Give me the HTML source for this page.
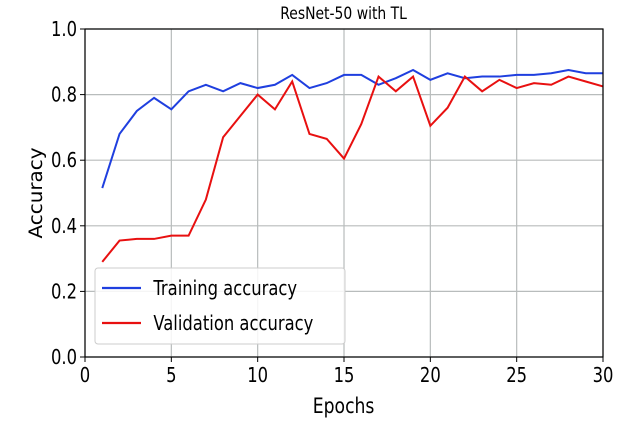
<!DOCTYPE html>
<html><head><meta charset="utf-8"><style>
body{margin:0;background:#fff;}
svg{display:block;}
text{font-family:"DejaVu Sans","Liberation Sans",sans-serif;fill:#000;}
</style></head><body>
<svg width="636" height="422" viewBox="0 0 636 422" xmlns="http://www.w3.org/2000/svg">
<g id="grid" stroke="#b8bcbc" stroke-width="1.2">
</g>
<g transform="scale(0.82,1)"><text x="419" y="19" font-size="17" text-anchor="middle">ResNet-50 with TL</text></g>
<g id="plot"></g>
<rect x="85" y="29" width="518" height="328" fill="none" stroke="#000" stroke-width="1.2"/>
<g id="ticks"></g>
<g transform="translate(42,193) rotate(-90) scale(1.05,1)"><text x="0" y="0" font-size="19" text-anchor="middle">Accuracy</text></g>
<g transform="scale(0.82,1)"><text x="419" y="413" font-size="21" text-anchor="middle">Epochs</text></g>
<rect x="95" y="268" width="250" height="76" rx="3" fill="#fff" fill-opacity="0.85" stroke="#ccc"/>
<line x1="102" y1="288" x2="141" y2="288" stroke="#1f3fdf" stroke-width="2.2"/>
<line x1="102" y1="323" x2="141" y2="323" stroke="#e81010" stroke-width="2.2"/>
<g transform="scale(0.82,1)"><text x="187" y="295" font-size="20">Training accuracy</text>
<text x="187" y="330" font-size="20">Validation accuracy</text></g>
<script>
var ns="http://www.w3.org/2000/svg";
function X(e){return 85+e*17.267;}function Y(v){return 357-v*328;}
var g=document.getElementById('grid'),t=document.getElementById('ticks'),p=document.getElementById('plot');
function el(par,tag,a,txt){var e=document.createElementNS(ns,tag);for(var k in a)e.setAttribute(k,a[k]);if(txt)e.textContent=txt;par.appendChild(e);return e;}
for(var e=0;e<=30;e+=5){el(g,'line',{x1:X(e),x2:X(e),y1:29,y2:357});
el(t,'line',{x1:X(e),x2:X(e),y1:357,y2:362,stroke:'#000'});
var gg=el(t,'g',{transform:'translate('+X(e)+',382) scale(0.82,1)'});el(gg,'text',{x:0,y:0,'font-size':20,'text-anchor':'middle'},String(e));}
for(var i=0;i<=5;i++){var v=i*0.2;el(g,'line',{x1:85,x2:603,y1:Y(v),y2:Y(v)});
el(t,'line',{x1:80,x2:85,y1:Y(v),y2:Y(v),stroke:'#000'});
var gg=el(t,'g',{transform:'translate(77,'+(Y(v)+7)+') scale(0.82,1)'});el(gg,'text',{x:0,y:0,'font-size':20,'text-anchor':'end'},v.toFixed(1));}
var tr=[0.515,0.68,0.75,0.79,0.755,0.81,0.83,0.81,0.835,0.82,0.83,0.86,0.82,0.835,0.86,0.86,0.83,0.85,0.875,0.845,0.865,0.85,0.855,0.855,0.86,0.86,0.865,0.875,0.865,0.865];
var va=[0.29,0.355,0.36,0.36,0.37,0.37,0.48,0.67,0.735,0.80,0.755,0.84,0.68,0.665,0.605,0.71,0.855,0.81,0.855,0.705,0.76,0.855,0.81,0.845,0.82,0.835,0.83,0.855,0.84,0.825];
function pl(d,c){el(p,'polyline',{points:d.map(function(v,i){return X(i+1)+','+Y(v);}).join(' '),fill:'none',stroke:c,'stroke-width':2});}
pl(tr,'#1f3fdf');pl(va,'#e81010');
</script>
</svg>
</body></html>
